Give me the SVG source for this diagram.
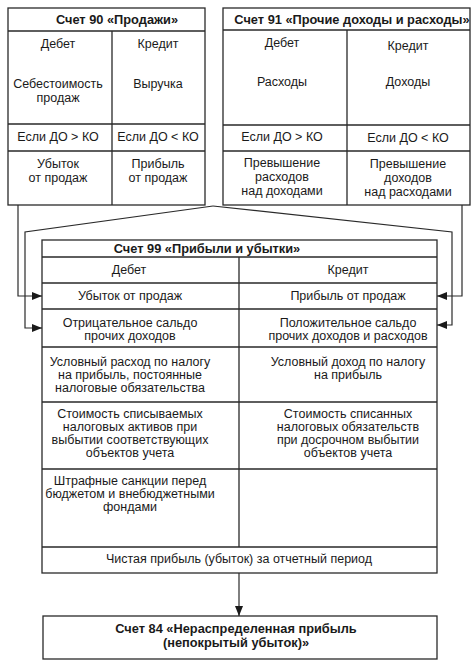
<svg xmlns="http://www.w3.org/2000/svg" width="474" height="665" viewBox="0 0 474 665">
<style>
.box{fill:#fff;stroke:#2a2a2a;stroke-width:1.3}
.ln{fill:none;stroke:#2a2a2a;stroke-width:1.3}
.t{font-family:"Liberation Sans",Arial,sans-serif;font-size:12.5px;fill:#1a1a1a;text-anchor:middle}
.b{font-weight:bold;font-size:12.8px}
.c{fill:none;stroke:#2a2a2a;stroke-width:1.2}
</style>
<defs>
<marker id="ah" viewBox="0 0 10 8" refX="10" refY="4" markerWidth="10" markerHeight="8" markerUnits="userSpaceOnUse" orient="auto">
<path d="M0,0 L10,4 L0,8 z" fill="#1a1a1a"/>
</marker>
</defs>
<rect width="474" height="665" fill="#fff"/>

<g id="acc90">
<rect class="box" x="8" y="8" width="197" height="197"/>
<path class="ln" d="M8,31 H205 M112,31 V205 M8,124 H205 M8,151 H205"/>
<text class="t b" x="117" y="24">Счет 90 «Продажи»</text>
<text class="t" x="58" y="48">Дебет</text>
<text class="t" x="158" y="48">Кредит</text>
<text class="t" x="58" y="88">Себестоимость</text>
<text class="t" x="58" y="102">продаж</text>
<text class="t" x="158" y="88">Выручка</text>
<text class="t" x="58" y="141">Если ДО &gt; КО</text>
<text class="t" x="158" y="141">Если ДО &lt; КО</text>
<text class="t" x="58" y="168">Убыток</text>
<text class="t" x="58" y="182">от продаж</text>
<text class="t" x="158" y="168">Прибыль</text>
<text class="t" x="158" y="182">от продаж</text>
</g>

<g id="acc91">
<rect class="box" x="223" y="8" width="247" height="197"/>
<path class="ln" d="M223,30 H470 M347,30 V205 M223,125 H470 M223,151 H470"/>
<text class="t b" x="352" y="24">Счет 91 «Прочие доходы и расходы»</text>
<text class="t" x="282" y="47">Дебет</text>
<text class="t" x="408" y="50">Кредит</text>
<text class="t" x="282" y="86">Расходы</text>
<text class="t" x="408" y="86">Доходы</text>
<text class="t" x="282" y="141">Если ДО &gt; КО</text>
<text class="t" x="408" y="142">Если ДО &lt; КО</text>
<text class="t" x="282" y="167">Превышение</text>
<text class="t" x="282" y="181">расходов</text>
<text class="t" x="282" y="195">над доходами</text>
<text class="t" x="408" y="168">Превышение</text>
<text class="t" x="408" y="182">доходов</text>
<text class="t" x="408" y="196">над расходами</text>
</g>

<g id="acc99">
<rect class="box" x="42" y="240" width="395" height="333"/>
<path class="ln" d="M42,257 H437 M42,283 H437 M42,309 H437 M42,347 H437 M42,402 H437 M42,469 H437 M42,547 H437 M239,257 V547"/>
<text class="t b" x="207" y="253">Счет 99 «Прибыли и убытки»</text>
<text class="t" x="129" y="274">Дебет</text>
<text class="t" x="348" y="274">Кредит</text>
<text class="t" x="130" y="300">Убыток от продаж</text>
<text class="t" x="348" y="300">Прибыль от продаж</text>
<text class="t" x="130" y="327">Отрицательное сальдо</text>
<text class="t" x="130" y="340">прочих доходов</text>
<text class="t" x="348" y="327">Положительное сальдо</text>
<text class="t" x="348" y="340">прочих доходов и расходов</text>
<text class="t" x="130" y="366">Условный расход по налогу</text>
<text class="t" x="130" y="379">на прибыль, постоянные</text>
<text class="t" x="130" y="392">налоговые обязательства</text>
<text class="t" x="348" y="366">Условный доход по налогу</text>
<text class="t" x="348" y="379">на прибыль</text>
<text class="t" x="130" y="418">Стоимость списываемых</text>
<text class="t" x="130" y="431">налоговых активов при</text>
<text class="t" x="130" y="444">выбытии соответствующих</text>
<text class="t" x="130" y="457">объектов учета</text>
<text class="t" x="348" y="418">Стоимость списанных</text>
<text class="t" x="348" y="431">налоговых обязательств</text>
<text class="t" x="348" y="444">при досрочном выбытии</text>
<text class="t" x="348" y="457">объектов учета</text>
<text class="t" x="130" y="485">Штрафные санкции перед</text>
<text class="t" x="130" y="498">бюджетом и внебюджетными</text>
<text class="t" x="130" y="511">фондами</text>
<text class="t" x="239" y="563">Чистая прибыль (убыток) за отчетный период</text>
</g>

<g id="acc84">
<rect class="box" x="43" y="616" width="394" height="43"/>
<text class="t b" x="236" y="633">Счет 84 «Нераспределенная прибыль</text>
<text class="t b" x="236" y="647">(непокрытый убыток)»</text>
</g>

<g id="connectors">
<path class="c" d="M18,205 V296 H42" marker-end="url(#ah)"/>
<path class="c" d="M213,206 L25,232 V328 H42" marker-end="url(#ah)"/>
<path class="c" d="M462,205 V296 H437" marker-end="url(#ah)"/>
<path class="c" d="M213,206 L452,232 V325 H437" marker-end="url(#ah)"/>
<path class="c" d="M239,573 V616" marker-end="url(#ah)"/>
</g>
</svg>
